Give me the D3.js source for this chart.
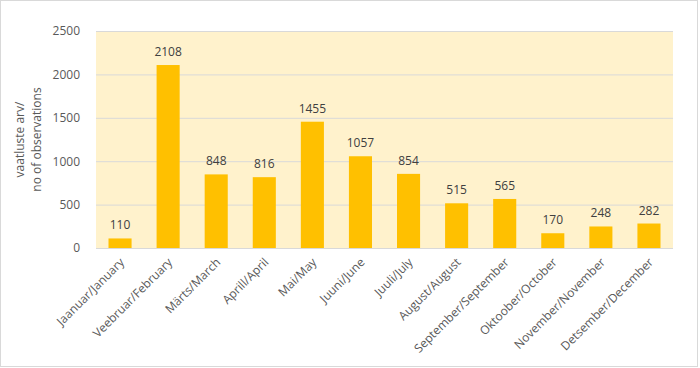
<!DOCTYPE html>
<html><head><meta charset="utf-8">
<script src="https://cdn.jsdelivr.net/npm/d3@7"></script>
<style>body{margin:0;background:#fff}svg{display:block}text{font-family:"Open Sans","Noto Sans",sans-serif}</style>
</head><body><svg id="c" width="700" height="368"></svg>
<script>
const categories=["Jaanuar/January","Veebruar/February","Märts/March","Aprill/April","Mai/May","Juuni/June","Juuli/July","August/August","September/September","Oktoober/October","November/November","Detsember/December"];
const values=[110,2108,848,816,1455,1057,854,515,565,170,248,282];
const yTicks=[0,500,1000,1500,2000,2500];
const yTitle=["vaatluste arv/","no of observations"];

const svg=d3.select("#c");
const m={l:96,r:673,t:31,b:248};
svg.append("rect").attr("x",0.5).attr("y",0.5).attr("width",697).attr("height",366).attr("fill","#fff").attr("stroke","#D9D9D9");
svg.append("rect").attr("x",m.l).attr("y",m.t).attr("width",m.r-m.l).attr("height",m.b-m.t).attr("fill","#FFF2CC");
const x=d3.scaleBand().domain(categories).range([m.l,m.r]).paddingInner(0.52).paddingOuter(0.26);
const y=d3.scaleLinear().domain([0,2500]).range([m.b,m.t]);
const ya=svg.append("g").attr("transform",`translate(${m.l},0)`).call(d3.axisLeft(y).tickValues(yTicks).tickFormat(d3.format("d")).tickSize(-(m.r-m.l)).tickPadding(16));
ya.select(".domain").remove();
ya.selectAll("line").attr("stroke","#D9D9D9");
ya.selectAll("text").attr("fill","#595959").style("font-size","12px");
svg.append("g").selectAll("rect").data(values).join("rect")
 .attr("x",(d,i)=>x(categories[i])).attr("width",x.bandwidth())
 .attr("y",d=>y(d)).attr("height",d=>y(0)-y(d)).attr("fill","#FFC000");
svg.append("g").selectAll("text").data(values).join("text")
 .attr("x",(d,i)=>x(categories[i])+x.bandwidth()/2).attr("y",d=>y(d)-9)
 .attr("text-anchor","middle").attr("fill","#404040").style("font-size","12px").text(d=>d);
svg.append("line").attr("x1",m.l).attr("x2",m.r).attr("y1",m.b+0.5).attr("y2",m.b+0.5).attr("stroke","#D9D9D9");
const xa=svg.append("g").attr("transform",`translate(0,${m.b})`).call(d3.axisBottom(x).tickSize(0));
xa.select(".domain").remove();
xa.selectAll("text").attr("fill","#595959").style("font-size","12px")
 .attr("text-anchor","end").attr("dy","0").attr("y",0)
 .attr("transform","translate(5,15) rotate(-45)");
const t=svg.append("text").attr("transform",`translate(24,${(m.t+m.b)/2}) rotate(-90)`).attr("text-anchor","middle").attr("fill","#595959").style("font-size","12px");
yTitle.forEach((s,i)=>t.append("tspan").attr("x",0).attr("dy",i?17:0).text(s));
</script></body></html>
